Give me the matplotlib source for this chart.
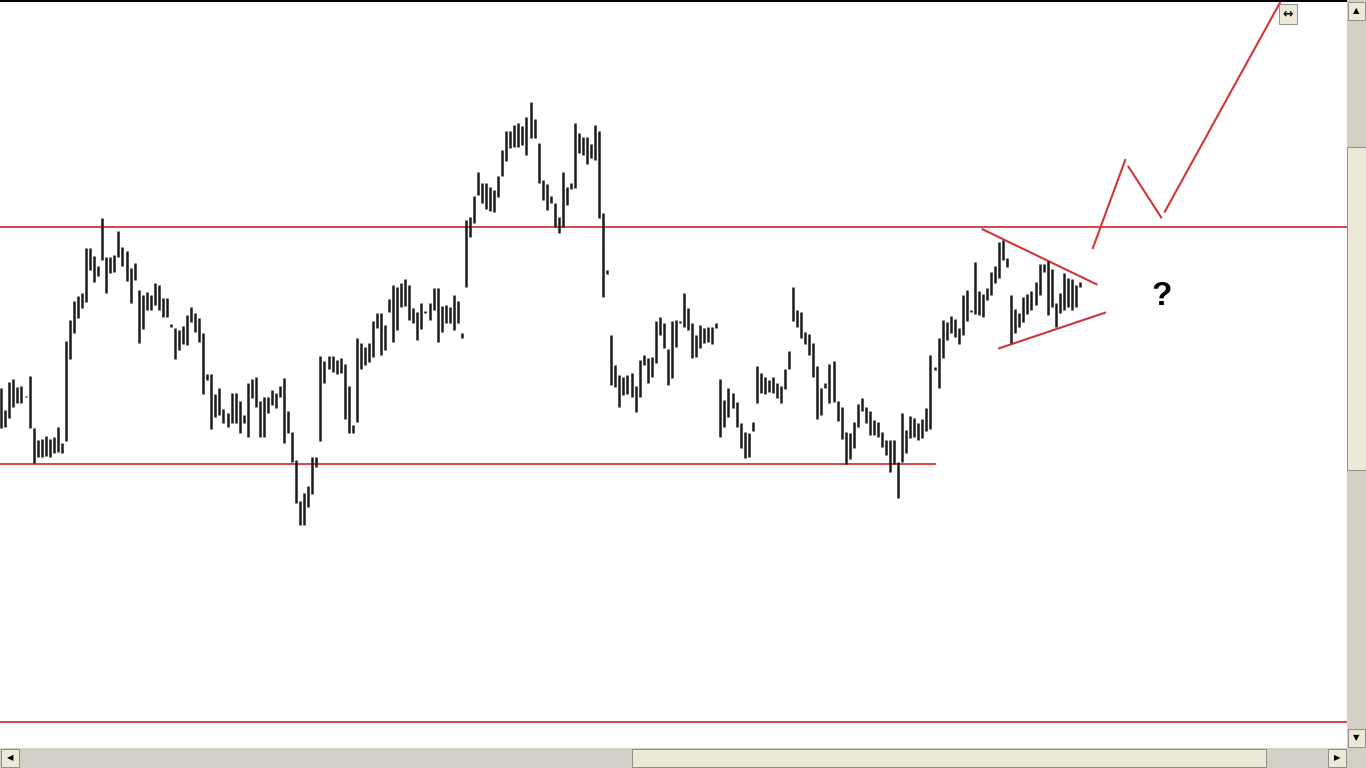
import matplotlib
matplotlib.use('Agg')
import matplotlib.pyplot as plt
from matplotlib.patches import Rectangle

# bar highs / lows (price in chart points), one bar per slot
highs = [380, 358, 386, 389, 381, 382, 372, 392, 340, 328, 329, 332, 329, 331, 341, 325,
         427, 448, 467, 472, 475, 520, 520, 512, 502, 550, 511, 511, 513, 537, 521, 517,
         500, 505, 478, 473, 476, 473, 485, 483, 470, 470, 444, 440, 438,
         442, 453, 461, 455, 450, 435, 394, 394, 374, 380, 359, 355, 375, 375, 367, 353,
         385, 389, 391, 367, 371, 371, 378, 375, 382, 390, 357, 336, 308, 267, 275, 282,
         311, 311, 412, 407, 412, 412, 408, 410, 404, 382, 343, 430,
         425, 421, 425, 447, 455, 455, 443, 469, 483, 481, 485, 489, 483, 460, 456, 465,
         457, 465, 480, 480, 462, 463, 461, 473, 467, 435, 548, 551, 572, 596, 585, 585,
         581, 578, 592, 618, 637, 637, 643, 645, 642, 651, 666, 649, 625, 588, 584, 572,
         565, 551, 596, 581, 585, 645, 635, 631, 631, 624, 643, 637, 555, 498,
         433, 403, 393, 391, 393, 395, 382, 408, 413, 410, 411, 447, 451, 445, 419, 447,
         448, 447, 475, 460, 445, 433, 443, 440, 441, 441, 445,
         389, 368, 380, 375, 366, 345, 336, 335, 346, 402, 395, 391, 388, 391, 385, 382,
         399, 417, 481, 458, 456, 436, 434, 425, 402, 380, 385, 404, 407, 367, 361, 336,
         335, 346, 364, 370, 361, 357, 348, 346, 336, 328, 328, 328, 306,
         355, 338, 352, 350, 345, 349, 360, 413, 401, 430, 448, 446, 452, 449, 440, 473,
         478, 458, 506, 477, 474, 480, 496, 502, 526, 528, 510, 473, 459, 455, 471, 474,
         477, 486, 504, 504, 507, 499, 465, 475, 495, 490, 489, 483, 486]
lows = [340, 341, 350, 361, 365, 365, 371, 340, 305, 311, 311, 312, 311, 315, 316, 315,
        327, 409, 435, 450, 460, 466, 498, 486, 492, 508, 475, 495, 496, 511, 502, 487,
        465, 488, 425, 439, 458, 458, 463, 458, 451, 451, 441, 409, 418,
        424, 423, 446, 436, 426, 374, 388, 339, 351, 353, 345, 341, 345, 345, 335, 345,
        331, 370, 361, 331, 331, 355, 363, 360, 371, 325, 335, 306, 265, 243, 243, 261,
        274, 301, 327, 385, 399, 396, 394, 395, 349, 335, 335, 346,
        399, 403, 406, 411, 440, 413, 418, 456, 426, 438, 461, 462, 448, 445, 428, 439,
        455, 448, 458, 426, 436, 445, 445, 438, 445, 430, 481, 531, 545, 573, 565, 559,
        557, 556, 571, 592, 607, 620, 621, 621, 623, 613, 630, 630, 585, 568, 558, 565,
        541, 535, 541, 563, 579, 580, 615, 613, 604, 610, 608, 550, 471, 494,
        383, 381, 361, 373, 374, 371, 356, 371, 403, 385, 391, 405, 433, 420, 383, 390,
        421, 445, 441, 438, 410, 411, 420, 425, 426, 424, 440,
        331, 341, 351, 360, 341, 320, 310, 311, 337, 365, 375, 374, 376, 375, 370, 365,
        379, 399, 447, 441, 430, 424, 413, 391, 349, 353, 380, 365, 366, 347, 329, 304,
        309, 320, 341, 357, 345, 333, 333, 331, 321, 313, 296, 304, 270,
        306, 315, 330, 331, 328, 330, 337, 339, 398, 380, 410, 428, 435, 431, 424, 433,
        447, 456, 454, 453, 451, 468, 473, 485, 490, 508, 501, 425, 435, 441, 446, 454,
        458, 463, 473, 496, 453, 461, 441, 455, 458, 461, 458, 461, 481]
bars = list(range(len(highs)))

# horizontal levels: (price, first bar, last bar)
levels = [(541, -1, 334), (304, -1, 231), (46, -1, 334)]
# triangle edges and the projected zigzag, as (bar, price) points
tri_upper = ([242.9, 271.1], [538.7, 483.7])
tri_lower = ([247.0, 273.2], [419.7, 455.3])
zigzag = [([270.2, 278.2], [520, 608]),
          ([279.0, 287.1], [601.3, 550.7]),
          ([288.0, 316.5], [556.3, 765.3])]

W, H = 1366, 768
fig = plt.figure(figsize=(W / 100, H / 100), dpi=100)
fig.patch.set_facecolor('white')
ax = fig.add_axes([0, 20 / H, 1347 / W, 748 / H])
ax.set_xlim(-0.32, 333.1)
ax.set_ylim(20, 768)
ax.axis('off')

red = '#d03636'
for price, x0, x1 in levels:
    ax.plot([x0, x1], [price, price], color=red, lw=1.3)
ax.plot(*tri_upper, color=red, lw=1.5)
ax.plot(*tri_lower, color=red, lw=1.5)
for xs, ys in zigzag:
    ax.plot(xs, ys, color=red, lw=1.5)

ax.vlines(bars, lows, highs, color='#1c1c1c', lw=1.8)
ax.text(287.3, 472, '?', fontsize=24, fontweight='bold', family='Liberation Sans',
        ha='center', va='center', color='black')


def px_rect(x, y, w, h, **kw):
    # rectangle in screen pixels measured from the top-left corner
    fig.add_artist(Rectangle((x / W, 1 - (y + h) / H), w / W, h / H,
                             transform=fig.transFigure, **kw))


track, thumb, edge = '#d4d0c8', '#ece9d8', '#808080'
# top border of the chart window
px_rect(0, 0, 1347, 1.5, facecolor='black', edgecolor='none')
# right scrollbar
px_rect(1347, 0, 19, 748, facecolor=track, edgecolor='none')
px_rect(1347, 147, 19, 323, facecolor=thumb, edgecolor=edge, lw=0.6)
px_rect(1348, 2, 17, 18, facecolor=thumb, edgecolor=edge, lw=0.6)
px_rect(1348, 729, 17, 18, facecolor=thumb, edgecolor=edge, lw=0.6)
fig.text(1356.5 / W, 1 - 11 / H, '▲', fontsize=6, ha='center', va='center')
fig.text(1356.5 / W, 1 - 738 / H, '▼', fontsize=6, ha='center', va='center')
# bottom scrollbar
px_rect(0, 748, 1366, 20, facecolor=track, edgecolor='none')
px_rect(632, 749, 634, 18, facecolor=thumb, edgecolor=edge, lw=0.6)
px_rect(1, 749, 18, 18, facecolor=thumb, edgecolor=edge, lw=0.6)
px_rect(1328, 749, 18, 18, facecolor=thumb, edgecolor=edge, lw=0.6)
fig.text(10 / W, 1 - 758 / H, '◀', fontsize=6, ha='center', va='center')
fig.text(1337 / W, 1 - 758 / H, '▶', fontsize=6, ha='center', va='center')
# small shift button at the top right of the chart
px_rect(1279, 4, 18, 20, facecolor=thumb, edgecolor=edge, lw=0.6)
fig.text(1288 / W, 1 - 14 / H, '↔', fontsize=9, fontweight='bold', ha='center', va='center')

fig.savefig('out.png', dpi=100)
